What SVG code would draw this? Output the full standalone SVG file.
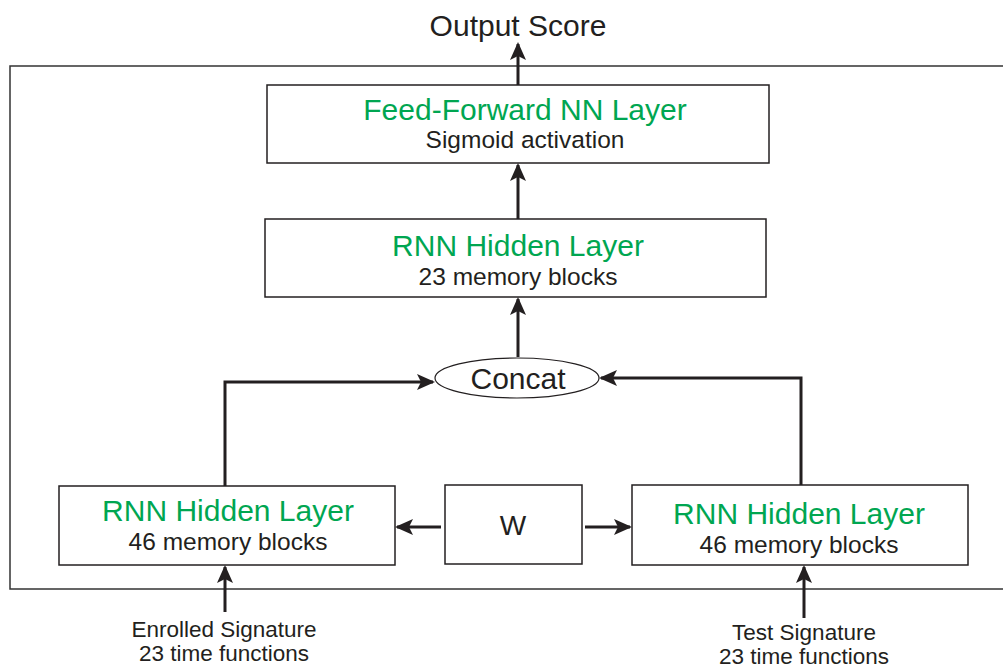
<svg xmlns="http://www.w3.org/2000/svg" width="1003" height="669" viewBox="0 0 1003 669">
<style>
.box{fill:#fff;stroke:#231f20;stroke-width:1.5}
.t{font-family:"Liberation Sans",Arial,sans-serif;text-anchor:middle;fill:#231f20}
.g{fill:#00a651;font-size:30px}
.s{font-size:24.5px}
.c{fill:none;stroke:#231f20;stroke-width:3}
.l{font-size:22.5px}
</style>
<defs>
<marker id="ah" markerUnits="userSpaceOnUse" markerWidth="18" markerHeight="16" refX="16" refY="8" orient="auto">
<path d="M0,0 L18,8 L0,16 L4,8 Z" fill="#231f20"/>
</marker>
</defs>
<rect x="10" y="66" width="1000" height="523" fill="none" stroke="#333" stroke-width="1.5"/>
<text class="t" x="518" y="36" font-size="30">Output Score</text>
<g id="connectors">
<line class="c" x1="518" y1="85" x2="518" y2="44" marker-end="url(#ah)"/>
<line class="c" x1="518" y1="219" x2="518" y2="165" marker-end="url(#ah)"/>
<line class="c" x1="518" y1="357" x2="518" y2="299" marker-end="url(#ah)"/>
<polyline class="c" points="225,486 225,382 433,382" marker-end="url(#ah)"/>
<polyline class="c" points="801,485 801,378 601,378" marker-end="url(#ah)"/>
<line class="c" x1="441" y1="527" x2="397" y2="527" marker-end="url(#ah)"/>
<line class="c" x1="585" y1="527" x2="630" y2="527" marker-end="url(#ah)"/>
<line class="c" x1="225" y1="612" x2="225" y2="567" marker-end="url(#ah)"/>
<line class="c" x1="804" y1="618" x2="804" y2="567" marker-end="url(#ah)"/>
</g>
<g id="ff">
<rect class="box" x="267" y="85" width="502" height="78"/>
<text class="t g" x="525" y="120">Feed-Forward NN Layer</text>
<text class="t s" x="525" y="148">Sigmoid activation</text>
</g>
<g id="rnn23">
<rect class="box" x="265" y="219" width="501" height="78"/>
<text class="t g" x="518" y="256">RNN Hidden Layer</text>
<text class="t s" x="518" y="285">23 memory blocks</text>
</g>
<g id="concat">
<ellipse cx="517" cy="378" rx="82" ry="20" fill="#fff" stroke="#231f20" stroke-width="1.2"/>
<text class="t" x="518" y="389" font-size="30">Concat</text>
</g>
<g id="rnnL">
<rect class="box" x="59" y="486" width="336" height="79"/>
<text class="t g" x="228" y="521">RNN Hidden Layer</text>
<text class="t s" x="228" y="550">46 memory blocks</text>
</g>
<g id="w">
<rect class="box" x="445" y="485" width="137" height="79"/>
<text class="t" x="513" y="535" font-size="28">W</text>
</g>
<g id="rnnR">
<rect class="box" x="632" y="485" width="336" height="80"/>
<text class="t g" x="799" y="524">RNN Hidden Layer</text>
<text class="t s" x="799" y="553">46 memory blocks</text>
</g>
<g id="enrolled">
<text class="t l" x="224" y="637">Enrolled Signature</text>
<text class="t l" x="224" y="661">23 time functions</text>
</g>
<g id="test">
<text class="t l" x="804" y="640">Test Signature</text>
<text class="t l" x="804" y="664">23 time functions</text>
</g>
</svg>
